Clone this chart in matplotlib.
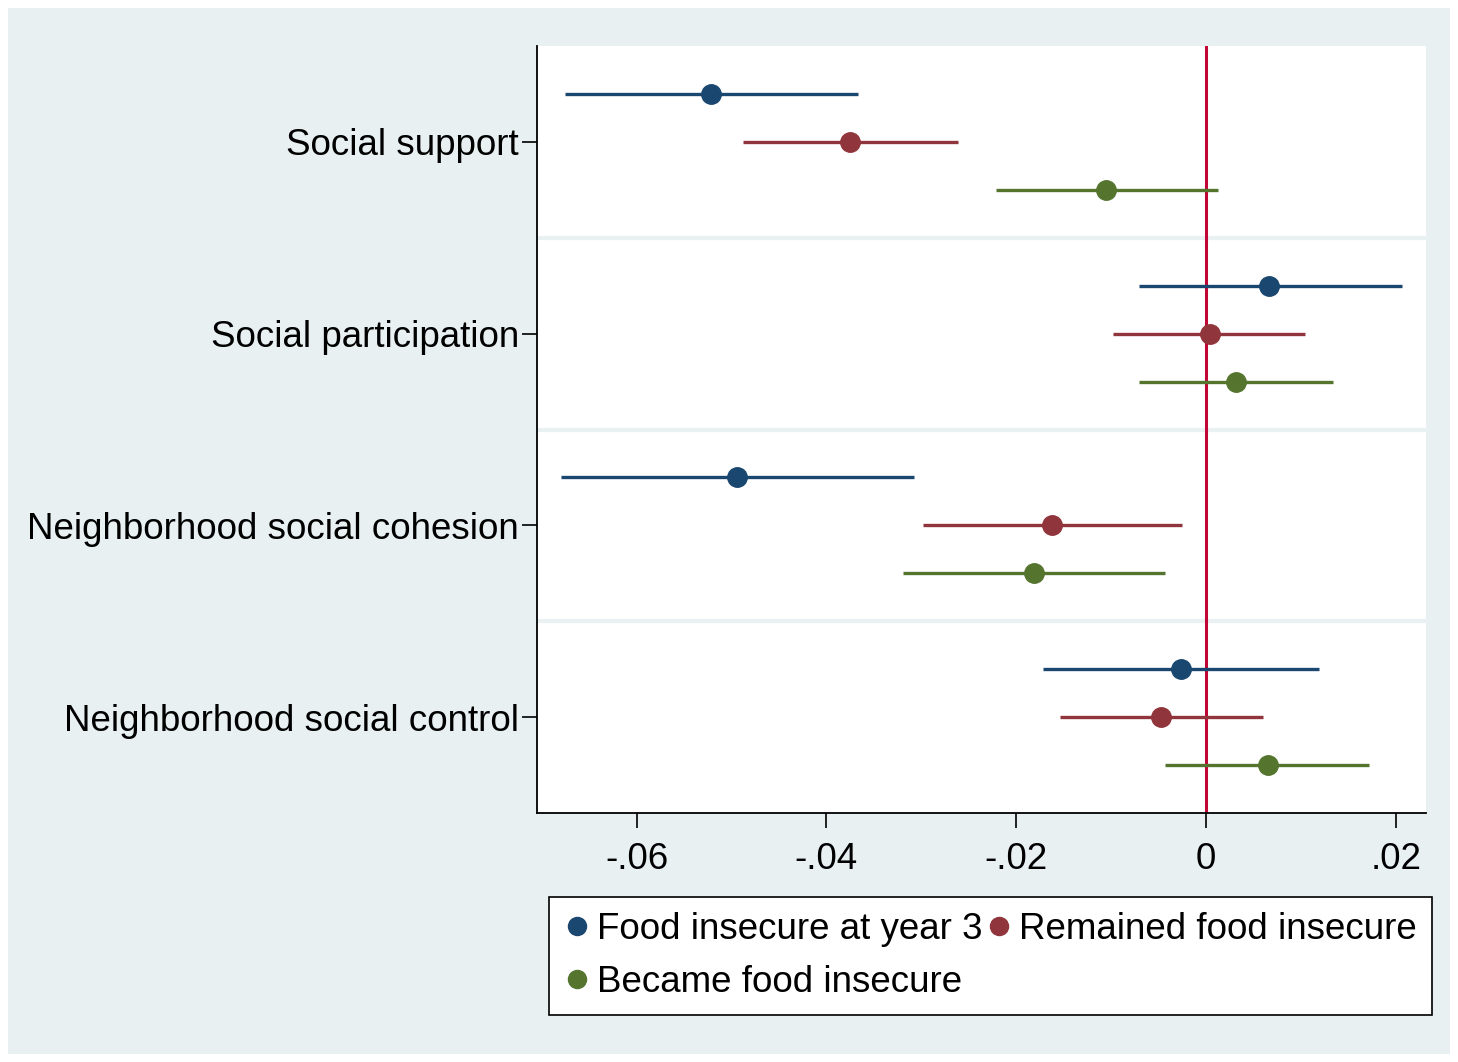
import matplotlib.pyplot as plt
from matplotlib.patches import Rectangle

plt.rcParams['font.family'] = ['Liberation Sans', 'DejaVu Sans']

# outcomes (top to bottom) and group estimates with 95% CIs
outcomes = ['Social support', 'Social participation',
            'Neighborhood social cohesion', 'Neighborhood social control']
groups = ['Food insecure at year 3', 'Remained food insecure', 'Became food insecure']
colors = ['#1a476f', '#90353b', '#55752f']

est = [[-0.0522, -0.0375, -0.0105],
       [0.0067, 0.0004, 0.0032],
       [-0.0494, -0.0162, -0.0181],
       [-0.0026, -0.0047, 0.0065]]
lo = [[-0.0676, -0.0488, -0.0221],
      [-0.0070, -0.0098, -0.0070],
      [-0.0680, -0.0298, -0.0319],
      [-0.0172, -0.0154, -0.0043]]
hi = [[-0.0367, -0.0261, 0.0013],
      [0.0207, 0.0104, 0.0134],
      [-0.0308, -0.0025, -0.0043],
      [0.0119, 0.0060, 0.0172]]

xticks = [-0.06, -0.04, -0.02, 0, 0.02]
xticklabels = ['-.06', '-.04', '-.02', '0', '.02']
offsets = [-0.25, 0, 0.25]

fig = plt.figure(figsize=(14.58, 10.62), dpi=100, facecolor='white')
bg = Rectangle((8 / 1458, 8 / 1062), 1442 / 1458, 1046 / 1062,
               transform=fig.transFigure, facecolor='#e8f0f2',
               edgecolor='none', zorder=-10)
fig.patches.append(bg)
ax = fig.add_axes([537 / 1458, 1 - 813 / 1062, 889 / 1458, 767 / 1062])
ax.set_zorder(1)
ax.set_facecolor('white')

handles = []
for i in range(len(outcomes)):
    for g in range(len(groups)):
        y = i + 1 + offsets[g]
        ax.plot([lo[i][g], hi[i][g]], [y, y], color=colors[g], lw=2.4,
                solid_capstyle='butt', zorder=3)
        pt, = ax.plot(est[i][g], y, 'o', color=colors[g], ms=14, zorder=4)
        if i == 0:
            handles.append(pt)

# separators between outcomes
for s in [1.5, 2.5, 3.5]:
    ax.axhline(s, color='#eaf1f3', lw=3, zorder=1)
ax.axvline(0, color='#c10534', lw=2.2, zorder=2)

ax.set_xlim(-0.0705, 0.0232)
ax.set_ylim(4.5, 0.5)
ax.set_yticks(range(1, len(outcomes) + 1))
ax.set_yticklabels(outcomes)
ax.set_xticks(xticks)
ax.set_xticklabels(xticklabels)
ax.tick_params(axis='both', labelsize=26.5, length=11, width=1.2, color='black')
ax.tick_params(axis='x', pad=10)
ax.tick_params(axis='y', pad=2)
for side in ['top', 'right']:
    ax.spines[side].set_visible(False)
for side in ['left', 'bottom']:
    ax.spines[side].set_linewidth(1.3)

# matplotlib fills legend columns first, so order as blue, green | red
order = [0, 2, 1]
leg = fig.legend([handles[k] for k in order], [groups[k] for k in order],
                 loc='upper left', bbox_to_anchor=(549 / 1458, 1 - 897 / 1062),
                 ncol=2, fontsize=26.5, frameon=True, fancybox=False,
                 edgecolor='black', facecolor='white', framealpha=1,
                 handletextpad=0.2, columnspacing=0.1, borderpad=0.4,
                 labelspacing=0.5, handlelength=0.7, borderaxespad=0)
leg.set_zorder(2)
leg.get_frame().set_linewidth(1.2)
for h in leg.legend_handles:
    h.set_markersize(13)

fig.savefig('out.png', dpi=100, facecolor='white')
